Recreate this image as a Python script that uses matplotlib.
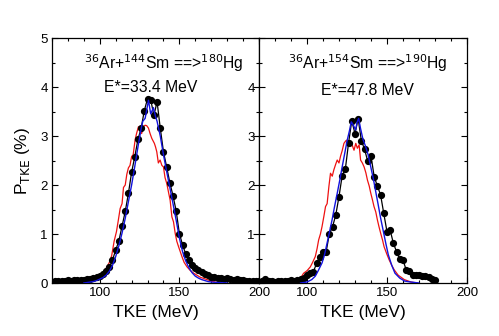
#!/usr/bin/env python3
"""TKE distributions for 36Ar+144Sm and 36Ar+154Sm, two side-by-side panels."""

import matplotlib
matplotlib.use("Agg")
import matplotlib.pyplot as plt
from matplotlib.ticker import MultipleLocator, FixedLocator

plt.rcParams["font.family"] = ["Liberation Sans", "DejaVu Sans"]

# ---- left panel: 36Ar+144Sm ==> 180Hg, E*=33.4 MeV ----
L_exp_x = list(range(70, 202, 2))
L_exp_y = [0.03, 0.04, 0.04, 0.05, 0.05, 0.06, 0.05, 0.06, 0.06, 0.07,
           0.06, 0.08, 0.08, 0.10, 0.12, 0.14, 0.18, 0.25, 0.32, 0.47,
           0.67, 0.86, 1.16, 1.46, 1.83, 2.26, 2.58, 2.93, 3.16, 3.52,
           3.76, 3.74, 3.42, 3.70, 3.16, 2.68, 2.37, 2.05, 1.78, 1.47,
           1.01, 0.78, 0.59, 0.47, 0.36, 0.30, 0.27, 0.22, 0.18, 0.16,
           0.12, 0.12, 0.10, 0.10, 0.08, 0.10, 0.08, 0.07, 0.08, 0.06,
           0.06, 0.05, 0.05, 0.04, 0.04, 0.04]

L_blue_x = [90, 94, 96, 98, 100, 102, 104, 106, 108, 110, 112, 114, 116,
            118, 120, 122, 124, 126, 127, 128.5, 130.6, 132, 133.7, 135,
            136, 138, 140, 142, 144, 146, 148, 150, 152, 154, 156, 158,
            160, 162, 164, 166, 168, 170, 174, 180]
L_blue_y = [0.0, 0.02, 0.03, 0.05, 0.08, 0.11, 0.16, 0.24, 0.36, 0.54,
            0.76, 1.02, 1.32, 1.66, 2.00, 2.38, 2.78, 3.15, 3.30, 3.36,
            3.73, 3.45, 3.58, 3.40, 3.30, 3.00, 2.62, 2.28, 1.95, 1.62,
            1.28, 0.92, 0.64, 0.45, 0.31, 0.21, 0.14, 0.10, 0.07, 0.05,
            0.03, 0.02, 0.01, 0.0]

L_red_x = [96, 100, 102, 104, 106, 107.5, 109, 110.5, 111.7, 112.8, 114,
           114.9, 116, 117, 118, 119, 120, 121, 122.2, 123.1, 124.3, 125.2,
           126.3, 127.4, 128.5, 129.5, 130.6, 131.6, 132.7, 133.5, 134.3,
           135, 135.8, 136.8, 137.9, 139, 140, 141, 142.1, 143.2, 144.2,
           145.3, 146.3, 147.4, 148.4, 149.5, 151.6, 153, 154.8, 157, 159,
           163, 167.3, 171, 175.7]
L_red_y = [0.04, 0.13, 0.20, 0.30, 0.42, 0.56, 0.85, 1.05, 1.29, 1.52,
           1.62, 1.95, 2.00, 2.22, 2.35, 2.40, 2.58, 2.62, 2.92, 3.05,
           3.19, 3.17, 3.05, 3.19, 3.22, 3.21, 3.16, 3.05, 2.95, 2.90,
           2.85, 2.78, 2.68, 2.45, 2.51, 2.40, 2.37, 2.15, 2.03, 1.85,
           1.69, 1.35, 1.25, 1.01, 0.85, 0.74, 0.54, 0.42, 0.33, 0.25,
           0.20, 0.12, 0.07, 0.03, 0.0]

# ---- right panel: 36Ar+154Sm ==> 190Hg, E*=47.8 MeV ----
R_exp_x = list(range(70, 182, 2))
R_exp_y = [0.03, 0.05, 0.08, 0.05, 0.04, 0.03, 0.04, 0.05, 0.04, 0.05,
           0.06, 0.05, 0.06, 0.08, 0.10, 0.16, 0.20, 0.23, 0.40, 0.54,
           0.64, 0.64, 1.01, 1.15, 1.39, 1.76, 2.19, 2.33, 2.86, 3.31,
           3.05, 3.35, 2.90, 2.73, 2.48, 2.60, 2.17, 1.98, 1.80, 1.42,
           1.05, 1.08, 0.81, 0.64, 0.48, 0.47, 0.27, 0.25, 0.16, 0.16,
           0.16, 0.15, 0.15, 0.12, 0.08, 0.06]

R_blue_x = [96, 100, 103, 105.2, 107, 109.4, 111, 112.6, 114, 115.7, 117,
            118.9, 120.5, 122, 123.5, 125.2, 126.5, 127.7, 129, 130.4,
            131.3, 132.3, 133.5, 135, 136.5, 138.2, 139.8, 141.4, 143,
            144.5, 146, 147.7, 149.2, 150.8, 153, 155, 158, 161, 165, 170]
R_blue_y = [0.0, 0.02, 0.07, 0.14, 0.25, 0.41, 0.58, 0.82, 1.03, 1.29,
            1.52, 1.83, 2.10, 2.37, 2.63, 2.92, 3.10, 3.29, 3.22, 3.12,
            3.28, 3.36, 3.15, 2.93, 2.80, 2.62, 2.38, 2.14, 1.86, 1.60,
            1.33, 1.06, 0.82, 0.58, 0.36, 0.20, 0.10, 0.04, 0.02, 0.0]

R_red_x = [92, 93.7, 96, 97.9, 100, 102.1, 103.5, 105.2, 106.3, 107.3,
           108.4, 109.4, 110.5, 111.6, 112.6, 113.7, 114.7, 115.8, 116.8,
           117.9, 118.9, 120, 121, 122, 123.1, 124.2, 125.2, 126.3, 127.3,
           128.4, 129.4, 130.5, 131.5, 132.6, 133.5, 134.6, 135.7, 136.8,
           137.8, 138.9, 139.9, 140.9, 141.9, 143, 144, 145, 146.1, 147.2,
           148.2, 149.8, 151.4, 153, 154.5, 157, 160.8, 165, 169.2]
R_red_y = [0.0, 0.03, 0.10, 0.20, 0.25, 0.33, 0.42, 0.54, 0.70, 0.88,
           1.00, 1.15, 1.35, 1.56, 1.62, 1.97, 2.24, 2.18, 2.31, 2.42,
           2.51, 2.45, 2.59, 2.70, 2.85, 2.90, 2.92, 2.86, 2.88, 2.80,
           2.71, 2.85, 2.75, 2.82, 2.51, 2.45, 2.37, 2.25, 2.10, 1.98,
           1.83, 1.70, 1.56, 1.45, 1.29, 1.15, 1.01, 0.88, 0.74, 0.60,
           0.47, 0.36, 0.27, 0.16, 0.07, 0.02, 0.0]

X_TICKS = [100, 150, 200]
Y_TICKS = [0, 1, 2, 3, 4, 5]


def style_axes(ax):
    ax.set_xlim(70, 200)
    ax.set_ylim(0, 5)
    ax.xaxis.set_major_locator(FixedLocator(X_TICKS))
    ax.xaxis.set_minor_locator(MultipleLocator(10))
    ax.yaxis.set_major_locator(FixedLocator(Y_TICKS))
    ax.yaxis.set_minor_locator(MultipleLocator(0.5))
    ax.tick_params(which="both", direction="in", top=True, right=True,
                   labelsize=9.5, width=0.8, pad=3)
    ax.tick_params(which="major", length=4.5)
    ax.tick_params(which="minor", length=2.5)
    for s in ax.spines.values():
        s.set_linewidth(0.9)
    ax.set_xlabel("TKE (MeV)", fontsize=12.5, labelpad=4)


def draw(ax, ex, ey, bx, by, rx, ry):
    ax.plot(rx, ry, color="#ee1111", lw=0.9, zorder=2)
    ax.plot(ex, ey, color="black", lw=0.9, marker="o", ms=4.2, zorder=3)
    ax.plot(bx, by, color="#1111dd", lw=1.0, zorder=4)


fig = plt.figure(figsize=(4.99, 3.36), dpi=100)
ax1 = fig.add_axes([0.1042, 0.1577, 0.4148, 0.7292])
ax2 = fig.add_axes([0.5190, 0.1577, 0.4168, 0.7292])

draw(ax1, L_exp_x, L_exp_y, L_blue_x, L_blue_y, L_red_x, L_red_y)
draw(ax2, R_exp_x, R_exp_y, R_blue_x, R_blue_y, R_red_x, R_red_y)
style_axes(ax1)
style_axes(ax2)

ax2.set_yticklabels(["", "1", "2", "3", "4", ""])
ax1.set_ylabel(r"P$_{\mathrm{TKE}}$ (%)", fontsize=12.5, labelpad=6)

ax1.text(0.54, 0.896, r"$^{36}$Ar+$^{144}$Sm ==>$^{180}$Hg",
         transform=ax1.transAxes, ha="center", va="center", fontsize=11.3)
ax1.text(0.478, 0.80, "E*=33.4 MeV",
         transform=ax1.transAxes, ha="center", va="center", fontsize=11.3)
ax2.text(0.524, 0.896, r"$^{36}$Ar+$^{154}$Sm ==>$^{190}$Hg",
         transform=ax2.transAxes, ha="center", va="center", fontsize=11.3)
ax2.text(0.522, 0.785, "E*=47.8 MeV",
         transform=ax2.transAxes, ha="center", va="center", fontsize=11.3)

fig.savefig("out.png", dpi=100)
